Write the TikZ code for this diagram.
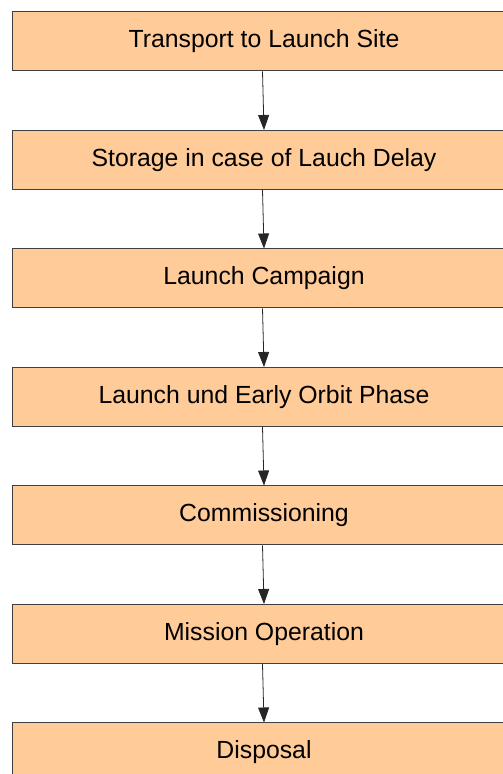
\documentclass[tikz,border=0pt]{standalone}
\usepackage{fontspec}
\setmainfont{Liberation Sans}
\usepackage{tikz}
\usetikzlibrary{arrows.meta}

\definecolor{phasefill}{HTML}{FFCC99}
\definecolor{phaseline}{HTML}{404040}

\begin{document}
\begin{tikzpicture}[x=1pt,y=1pt,
    phase/.style={draw=phaseline,fill=phasefill,line width=1pt,minimum width=504pt,
      minimum height=59pt,inner sep=0pt,font=\fontsize{24.8}{30}\selectfont},
    flow/.style={-{Triangle[length=15pt,width=11pt]},line width=0.8pt,black!85}]
    \useasboundingbox (0,0) rectangle (503,774);
    \clip (0,0) rectangle (503,774);
    % Phases of the mission
    \node[phase] (transport) at (264,732.5) {Transport to Launch Site};
    \node[phase] (storage) at (264,614) {Storage in case of Lauch Delay};
    \node[phase] (campaign) at (264,495.5) {Launch Campaign};
    \node[phase] (leop) at (264,377) {Launch und Early Orbit Phase};
    \node[phase] (commission) at (264,258.5) {Commissioning};
    \node[phase] (operation) at (264,140) {Mission Operation};
    \node[phase] (disposal) at (264,21.5) {Disposal};
    % Arrows between the phases
    \draw[flow] ([xshift=-1.5pt]transport.south) -- (storage.north);
    \draw[flow] ([xshift=-1.5pt]storage.south) -- (campaign.north);
    \draw[flow] ([xshift=-1.5pt]campaign.south) -- (leop.north);
    \draw[flow] ([xshift=-1.5pt]leop.south) -- (commission.north);
    \draw[flow] ([xshift=-1.5pt]commission.south) -- (operation.north);
    \draw[flow] ([xshift=-1.5pt]operation.south) -- (disposal.north);
  \end{tikzpicture}
\end{document}
